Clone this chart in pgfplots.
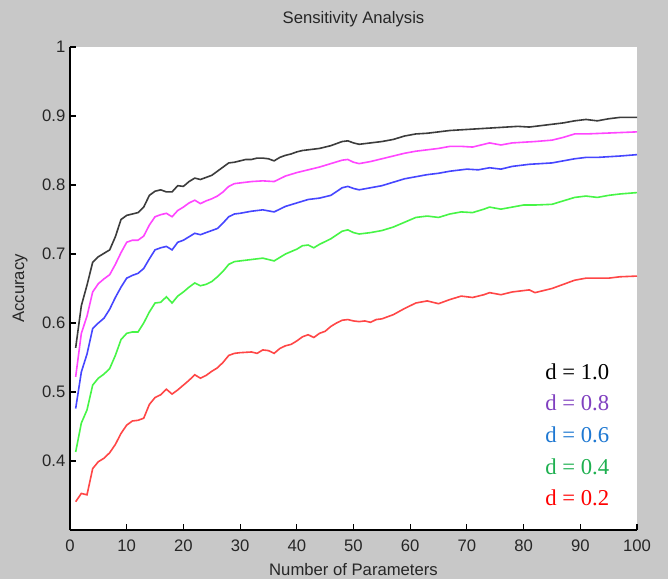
\documentclass[border=0pt]{standalone}
\usepackage{fontspec}
\setmainfont{Liberation Sans}
\newfontfamily\legendfont{Liberation Serif}
\usepackage{pgfplots}
\pgfplotsset{compat=1.18}

\definecolor{figbg}{RGB}{200,200,200}
\definecolor{lnblack}{RGB}{60,60,60}
\definecolor{lnmag}{RGB}{255,70,255}
\definecolor{lnblue}{RGB}{70,70,255}
\definecolor{lngreen}{RGB}{70,245,70}
\definecolor{lnred}{RGB}{255,70,70}
\definecolor{txpurple}{RGB}{128,64,192}
\definecolor{txblue}{RGB}{30,120,210}
\definecolor{txgreen}{RGB}{30,176,80}
\definecolor{txred}{RGB}{255,0,0}

\begin{document}
\begin{tikzpicture}
% grey figure background, MATLAB style
\fill[figbg] (-52.5pt,-36.75pt) rectangle (448.5pt,397.5pt);
\begin{axis}[
  at={(0,0)}, anchor=south west,
  scale only axis,
  width=425.25pt, height=362.25pt,
  xmin=0, xmax=100, ymin=0.3, ymax=1,
  xtick={0,10,20,30,40,50,60,70,80,90,100},
  ytick={0.4,0.5,0.6,0.7,0.8,0.9,1},
  axis x line*=bottom, axis y line*=left,
  axis line style={-, black, line width=0.8pt},
  tick align=inside, major tick length=4.5pt,
  tick style={black, line width=0.8pt},
  axis background/.style={fill=white},
  /pgf/number format/assume math mode=true,
  ticklabel style={font=\fontsize{12.5}{14}\selectfont, text=black!85},
  xticklabel style={yshift=-3.5pt},
  title={Sensitivity Analysis},
  title style={at={(axis description cs:0.5,1)}, anchor=center, yshift=15pt,
    font=\fontsize{12.5}{14}\selectfont, text=black!85},
  xlabel={Number of Parameters},
  xlabel style={at={(axis description cs:0.5,0)}, anchor=center, yshift=-29.5pt,
    font=\fontsize{12.5}{14}\selectfont, text=black!85},
  ylabel={Accuracy},
  ylabel style={at={(axis description cs:0,0.5)}, anchor=center, yshift=37.5pt,
    font=\fontsize{12.5}{14}\selectfont, text=black!85},
  every axis plot/.append style={line width=1.2pt, no markers},
]

% d = 1.0
\addplot[lnblack] coordinates {
 (1,0.564) (2,0.625) (3,0.655) (4,0.688) (5,0.696) (6,0.701) (7,0.706)
 (8,0.725) (9,0.750) (10,0.756) (11,0.758) (12,0.760) (13,0.768) (14,0.785)
 (15,0.791) (16,0.793) (17,0.790) (18,0.790) (19,0.799) (20,0.798) (21,0.805)
 (22,0.810) (23,0.808) (24,0.811) (25,0.814) (26,0.820) (27,0.826) (28,0.832)
 (29,0.833) (30,0.835) (31,0.837) (32,0.837) (33,0.839) (34,0.839) (35,0.838)
 (36,0.835) (37,0.840) (38,0.843) (39,0.845) (40,0.848) (41,0.850) (42,0.851)
 (43,0.852) (44,0.853) (45,0.855) (46,0.857) (47,0.860) (48,0.863) (49,0.864)
 (50,0.861) (51,0.859) (52,0.860) (53,0.861) (55,0.863) (57,0.866) (59,0.871)
 (61,0.874) (63,0.875) (65,0.877) (67,0.879) (69,0.880) (71,0.881) (73,0.882)
 (75,0.883) (77,0.884) (79,0.885) (81,0.884) (83,0.886) (85,0.888) (87,0.890)
 (89,0.893) (91,0.895) (93,0.893) (95,0.896) (97,0.898) (100,0.898)
};

% d = 0.8
\addplot[lnmag] coordinates {
 (1,0.522) (2,0.585) (3,0.610) (4,0.645) (5,0.657) (6,0.664) (7,0.670)
 (8,0.685) (9,0.702) (10,0.717) (11,0.720) (12,0.720) (13,0.726) (14,0.742)
 (15,0.754) (16,0.757) (17,0.759) (18,0.754) (19,0.763) (20,0.768) (21,0.774)
 (22,0.778) (23,0.773) (24,0.777) (25,0.780) (26,0.784) (27,0.790) (28,0.798)
 (29,0.802) (30,0.803) (32,0.805) (34,0.806) (36,0.805) (37,0.809) (38,0.813)
 (40,0.818) (42,0.822) (44,0.826) (46,0.831) (48,0.836) (49,0.837) (50,0.833)
 (51,0.831) (53,0.834) (55,0.838) (57,0.842) (59,0.846) (61,0.849) (63,0.851)
 (65,0.853) (67,0.856) (69,0.856) (71,0.855) (73,0.859) (74,0.861) (76,0.858)
 (78,0.861) (80,0.862) (82,0.863) (85,0.865) (87,0.869) (89,0.874) (91,0.874)
 (94,0.875) (97,0.876) (100,0.877)
};

% d = 0.6
\addplot[lnblue] coordinates {
 (1,0.476) (2,0.529) (3,0.555) (4,0.592) (5,0.600) (6,0.607) (7,0.620)
 (8,0.637) (9,0.652) (10,0.665) (11,0.669) (12,0.672) (13,0.679) (14,0.693)
 (15,0.706) (16,0.709) (17,0.711) (18,0.706) (19,0.717) (20,0.720) (21,0.725)
 (22,0.730) (23,0.728) (24,0.731) (25,0.734) (26,0.737) (27,0.745) (28,0.754)
 (29,0.758) (30,0.759) (32,0.762) (34,0.764) (36,0.761) (37,0.765) (38,0.769)
 (40,0.774) (42,0.779) (44,0.781) (46,0.785) (48,0.796) (49,0.798) (50,0.795)
 (51,0.793) (53,0.796) (55,0.799) (57,0.804) (59,0.809) (61,0.812) (63,0.815)
 (65,0.817) (67,0.820) (70,0.823) (72,0.822) (74,0.825) (76,0.823) (78,0.827)
 (81,0.830) (83,0.831) (85,0.832) (87,0.835) (89,0.838) (91,0.840) (93,0.840)
 (95,0.841) (97,0.842) (100,0.844)
};

% d = 0.4
\addplot[lngreen] coordinates {
 (1,0.413) (2,0.455) (3,0.474) (4,0.510) (5,0.520) (6,0.526) (7,0.534)
 (8,0.553) (9,0.576) (10,0.585) (11,0.587) (12,0.587) (13,0.600) (14,0.616)
 (15,0.629) (16,0.630) (17,0.638) (18,0.629) (19,0.639) (20,0.645) (21,0.652)
 (22,0.658) (23,0.654) (24,0.656) (25,0.660) (26,0.667) (27,0.675) (28,0.685)
 (29,0.689) (30,0.690) (32,0.692) (34,0.694) (36,0.690) (37,0.695) (38,0.700)
 (40,0.707) (41,0.712) (42,0.713) (43,0.709) (44,0.714) (46,0.722) (48,0.733)
 (49,0.735) (50,0.731) (51,0.729) (53,0.731) (55,0.734) (57,0.739) (59,0.746)
 (61,0.753) (63,0.755) (65,0.753) (67,0.758) (69,0.761) (71,0.760) (73,0.765)
 (74,0.768) (76,0.765) (78,0.768) (80,0.771) (82,0.771) (85,0.772) (87,0.777)
 (89,0.782) (91,0.784) (93,0.782) (95,0.785) (97,0.787) (100,0.789)
};

% d = 0.2
\addplot[lnred] coordinates {
 (1,0.341) (2,0.353) (3,0.351) (4,0.389) (5,0.399) (6,0.404) (7,0.412)
 (8,0.424) (9,0.440) (10,0.452) (11,0.458) (12,0.459) (13,0.462) (14,0.482)
 (15,0.492) (16,0.496) (17,0.504) (18,0.497) (19,0.503) (20,0.510) (21,0.517)
 (22,0.525) (23,0.520) (24,0.524) (25,0.530) (26,0.535) (27,0.543) (28,0.553)
 (29,0.556) (30,0.557) (32,0.558) (33,0.556) (34,0.561) (35,0.560) (36,0.556)
 (37,0.563) (38,0.567) (39,0.569) (40,0.574) (41,0.580) (42,0.583) (43,0.579)
 (44,0.585) (45,0.588) (46,0.595) (47,0.600) (48,0.604) (49,0.605) (50,0.603)
 (51,0.602) (52,0.603) (53,0.601) (54,0.605) (55,0.606) (57,0.612) (59,0.621)
 (61,0.629) (63,0.632) (65,0.628) (67,0.634) (69,0.639) (71,0.637) (73,0.641)
 (74,0.644) (76,0.641) (78,0.645) (81,0.648) (82,0.644) (85,0.650) (87,0.656)
 (89,0.662) (91,0.665) (95,0.665) (97,0.667) (100,0.668)
};

% labels written inside the axes
\node[anchor=west, text=black, font=\legendfont\fontsize{17}{20}\selectfont]
  at (axis cs:83,0.529) {d = 1.0};
\node[anchor=west, text=txpurple, font=\legendfont\fontsize{17}{20}\selectfont]
  at (axis cs:83,0.484) {d = 0.8};
\node[anchor=west, text=txblue, font=\legendfont\fontsize{17}{20}\selectfont]
  at (axis cs:83,0.438) {d = 0.6};
\node[anchor=west, text=txgreen, font=\legendfont\fontsize{17}{20}\selectfont]
  at (axis cs:83,0.391) {d = 0.4};
\node[anchor=west, text=txred, font=\legendfont\fontsize{17}{20}\selectfont]
  at (axis cs:83,0.346) {d = 0.2};

\end{axis}
\end{tikzpicture}
\end{document}
